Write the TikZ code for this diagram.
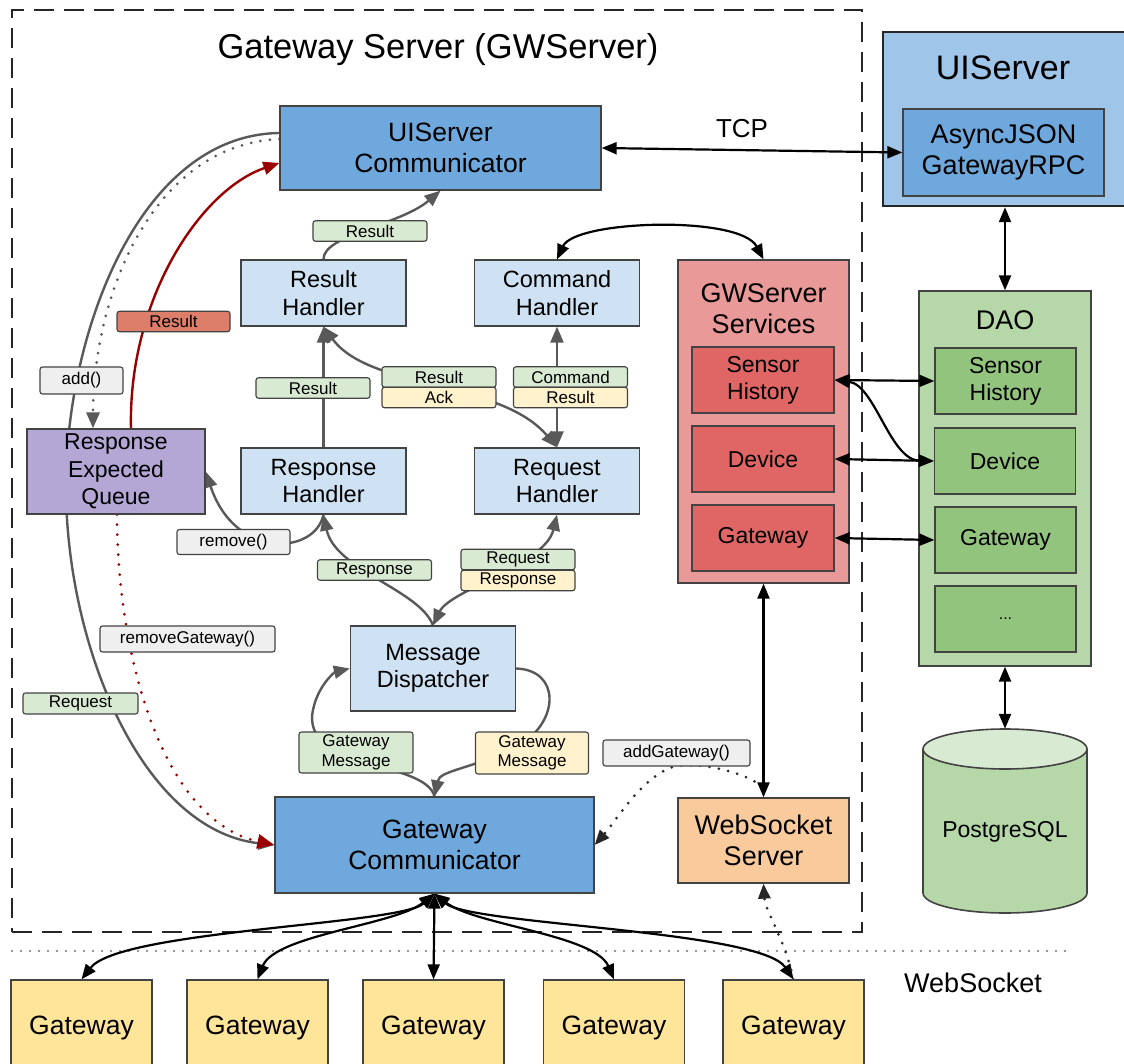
\documentclass[tikz,border=0pt]{standalone}
\usepackage{fontspec}
\setmainfont{Liberation Sans}
\usetikzlibrary{arrows.meta}
\pgfdeclarelayer{bgfill}
\pgfdeclarelayer{groups}
\pgfdeclarelayer{bg}
\pgfsetlayers{bgfill,groups,bg,main}

\definecolor{bordc}{HTML}{434343}
\definecolor{linec}{HTML}{595959}
\definecolor{redc}{HTML}{990000}
\definecolor{commblue}{HTML}{6FA8DC}
\definecolor{lightblue}{HTML}{CFE2F3}
\definecolor{uiblue}{HTML}{9FC5E8}
\definecolor{queuec}{HTML}{B4A7D6}
\definecolor{svcouter}{HTML}{EA9999}
\definecolor{svcinner}{HTML}{E06666}
\definecolor{daoouter}{HTML}{B6D7A8}
\definecolor{daoinner}{HTML}{93C47D}
\definecolor{dbtopc}{HTML}{D9EAD3}
\definecolor{wsc}{HTML}{F9CB9C}
\definecolor{gwyellow}{HTML}{FFE599}
\definecolor{tagg}{HTML}{D9EAD3}
\definecolor{tagy}{HTML}{FFF2CC}
\definecolor{taggray}{HTML}{EFEFEF}
\definecolor{tagred}{HTML}{DD7E6B}

\newcommand\setfs[2]{\fontsize{#1pt}{#2pt}\selectfont}

\tikzset{
  box/.style={draw=bordc, line width=1.3pt, inner sep=0pt, align=center, text=black},
  handler/.style={box, fill=lightblue, minimum width=165pt, minimum height=66pt, font=\setfs{23.5}{27.7}},
  comm/.style={box, fill=commblue, font=\setfs{26.5}{31.5}},
  innerbox/.style={box, minimum width=142pt, minimum height=66pt, font=\setfs{23}{27}},
  gwbox/.style={box, fill=gwyellow, minimum width=141pt, minimum height=95pt, font=\setfs{26.5}{31}},
  tag/.style={draw=bordc, line width=1.1pt, rounded corners=2.5pt, inner sep=0pt,
    minimum width=114pt, minimum height=20.5pt, font=\setfs{17}{19.5}, align=center},
  gtip/.style={-{Triangle[length=16pt,width=13pt]}},
  gline/.style={draw=linec, line width=2.4pt},
  garrow/.style={gline, gtip},
  gboth/.style={gline, {Triangle[length=16pt,width=13pt]}-{Triangle[length=16pt,width=13pt]}},
  gdots/.style={draw=linec, line width=3pt, line cap=round, dash pattern=on 0pt off 9.5pt, gtip},
  rline/.style={draw=redc, line width=2.4pt, gtip},
  rdots/.style={draw=redc, line width=3pt, line cap=round, dash pattern=on 0pt off 10pt,
    -{Triangle[length=17pt,width=14pt]}},
  bboth/.style={draw=black, line width=2.2pt, {Triangle[length=15pt,width=12pt]}-{Triangle[length=15pt,width=12pt]}},
  bdots/.style={draw=black!85, line width=3pt, line cap=round, dash pattern=on 0pt off 9.5pt,
    -{Triangle[length=15pt,width=12pt]}},
}

\begin{document}
\begin{tikzpicture}[x=1pt,y=-1pt]
\useasboundingbox (0,0) rectangle (1124,1064);
\begin{pgfonlayer}{bgfill}
  \fill[white] (0,0) rectangle (1124,1064);
\end{pgfonlayer}

% ---------- frames and group panels (beneath the connectors) ----------
\begin{pgfonlayer}{groups}
  \node[draw=black!85, line width=2.8pt, dash pattern=on 20pt off 10pt, inner sep=0pt,
        minimum width=850pt, minimum height=922pt] (gwsframe) at (437,471) {};
  \node[draw=black!85, line width=2.5pt, fill=uiblue, inner sep=0pt,
        minimum width=244pt, minimum height=174pt] (uis) at (1005,119) {};
  \node[box, fill=svcouter, minimum width=171pt, minimum height=323pt] (svc) at (763.5,421.5) {};
  \node[box, fill=daoouter, minimum width=172pt, minimum height=375pt] (dao) at (1005,478.5) {};
\end{pgfonlayer}

\node[anchor=base, font=\setfs{34.5}{40}] (title) at (438,59) {Gateway Server (GWServer)};

% ---------- UI server side ----------
\node[font=\setfs{34}{40}] (uistitle) at (1003,68) {UIServer};
\node[box, fill=commblue, minimum width=201pt, minimum height=87pt, font=\setfs{27}{31}]
      (async) at (1003.5,152.5) {AsyncJSON\\GatewayRPC};

% ---------- inner blocks ----------
\node[comm, minimum width=321pt, minimum height=84pt] (uic) at (440.5,148) {UIServer\\Communicator};
\node[handler] (resh) at (323.5,293) {Result\\Handler};
\node[handler] (cmdh) at (557,293) {Command\\Handler};
\node[handler] (rsph) at (323.5,481) {Response\\Handler};
\node[handler] (reqh) at (557,481) {Request\\Handler};
\node[box, fill=queuec, minimum width=178pt, minimum height=85pt, font=\setfs{23}{27.5}]
      (queue) at (116,471.5) {Response\\Expected\\Queue};
\node[handler, minimum height=85pt] (disp) at (433,668.5) {Message\\Dispatcher};
\node[comm, minimum width=319pt, minimum height=96pt] (gwc) at (434.5,845) {Gateway\\Communicator};
\node[box, fill=wsc, minimum width=171pt, minimum height=85pt, font=\setfs{27}{31}]
      (wss) at (763.5,840.5) {WebSocket\\Server};

% ---------- services ----------
\node[font=\setfs{27}{31}, align=center] (svctitle) at (763.5,309) {GWServer\\Services};
\node[innerbox, fill=svcinner] (svcsh) at (763,380) {Sensor\\History};
\node[innerbox, fill=svcinner] (svcdev) at (763,459) {Device};
\node[innerbox, fill=svcinner] (svcgw) at (763,538) {Gateway};

% ---------- DAO ----------
\node[font=\setfs{27}{31}] (daotitle) at (1005,320.5) {DAO};
\node[innerbox, fill=daoinner, minimum width=141pt] (daosh) at (1005.5,381) {Sensor\\History};
\node[innerbox, fill=daoinner, minimum width=141pt] (daodev) at (1005,461) {Device};
\node[innerbox, fill=daoinner, minimum width=141pt] (daogw) at (1005.5,540) {Gateway};
\node[innerbox, fill=daoinner, minimum width=141pt, font=\setfs{16}{18}] (daomore) at (1005.5,619) {...};

% ---------- database cylinder ----------
\node[inner sep=0pt, minimum width=164pt, minimum height=184pt] (db) at (1005,821) {};
\fill[daoouter] (923,749) rectangle (1087,893);
\fill[daoouter] (1005,893) ellipse (82 and 20);
\draw[bordc, line width=1.6pt] (923,749) -- (923,893)
  .. controls (923,904.05) and (959.7,913) .. (1005,913)
  .. controls (1050.3,913) and (1087,904.05) .. (1087,893) -- (1087,749);
\draw[bordc, line width=1.6pt, fill=dbtopc] (1005,749) ellipse (82 and 20);
\node[font=\setfs{23}{27}] (dblabel) at (1005,832) {PostgreSQL};

% ---------- gateways ----------
\node[gwbox] (gw1) at (81.5,1027.5) {Gateway};
\node[gwbox] (gw2) at (257.5,1027.5) {Gateway};
\node[gwbox] (gw3) at (433.5,1027.5) {Gateway};
\node[gwbox] (gw4) at (614,1027.5) {Gateway};
\node[gwbox] (gw5) at (793.5,1027.5) {Gateway};

\node[font=\setfs{26}{30}] (tcp) at (742,128.5) {TCP};
\node[font=\setfs{27}{31}] (wslabel) at (973,982.5) {WebSocket};

% ---------- connectors ----------
\begin{pgfonlayer}{bg}
  \draw[draw=black!55, line width=2.2pt, line cap=round, dash pattern=on 0pt off 9pt] (12,951) -- (1070,951);

  % queue bookkeeping around the left side
  \draw[garrow] ([yshift=15pt]uic.west) .. controls (140,135) and (68,330) .. (66,480)
        .. controls (64,640) and (140,830) .. (gwc.west);
  \draw[gdots] ([yshift=9pt]uic.west) .. controls (150,145) and (93,300) .. ([xshift=-23pt]queue.north);
  \draw[rline] ([xshift=15pt]queue.north)
        .. controls (128,300) and (200,190) .. ([yshift=-15pt]uic.west);
  \draw[rdots] ([xshift=1pt]queue.south) .. controls (117,650) and (160,820) .. (gwc.west);
  \draw[garrow] (rsph.south) .. controls (315,555) and (235,560) .. (queue.east);

  % handler chain
  \draw[garrow] (disp.north) .. controls (420,590) and (335,570) .. (rsph.south);
  \draw[gboth] (disp.north) .. controls (450,590) and (545,565) .. (reqh.south);
  \draw[garrow] (rsph.north) -- (resh.south);
  \draw[gboth] (reqh.north) .. controls (500,380) and (370,390) .. (resh.south);
  \draw[gboth] (cmdh.south) -- (reqh.north);
  \draw[garrow] (resh.north) .. controls (323,235) and (400,225) .. (uic.south);

  % gateway message loops
  \draw[garrow] (gwc.north) .. controls (425,760) and (300,770) .. (313,710)
        .. controls (318,685) and (335,672) .. (disp.west);
  \draw[garrow] (disp.east) .. controls (560,670) and (560,720) .. (520,745)
        .. controls (470,770) and (440,770) .. (gwc.north);

  % external links
  \draw[bboth] (uic.east) -- (async.west);
  \draw[bboth] (uis.south) -- (dao.north);
  \draw[bboth] (dao.south) -- (db.north);
  \draw[bboth] (cmdh.north) .. controls (575,220) and (740,215) .. (svc.north);
  \draw[bboth] (svcsh.east) -- (daosh.west);
  \draw[bboth] (svcdev.east) -- (daodev.west);
  \draw[bboth] (svcgw.east) -- (daogw.west);
  \draw[bboth] (svcsh.east) .. controls (875,385) and (890,460) .. (daodev.west);
  \draw[bboth] (svc.south) -- (wss.north);

  % websocket fan-out
  \draw[bboth] (gwc.south) .. controls (400,925) and (120,930) .. (gw1.north);
  \draw[bboth] (gwc.south) .. controls (395,925) and (275,935) .. (gw2.north);
  \draw[bboth] (gwc.south) -- (gw3.north);
  \draw[bboth] (gwc.south) .. controls (475,925) and (595,935) .. (gw4.north);
  \draw[bboth] (gwc.south) .. controls (470,925) and (760,930) .. (gw5.north);

  % registration of new gateways
  \draw[bdots] ([xshift=-9pt,yshift=16pt]wss.north) .. controls (735,770) and (690,760) .. (670,768)
        .. controls (640,780) and (615,822) .. (gwc.east);
  \draw[bdots] (gw5.north) .. controls (785,940) and (765,910) .. (wss.south);
\end{pgfonlayer}

% ---------- connector labels ----------
\node[tag, fill=tagg] (tResTop) at (370,231) {Result};
\node[tag, fill=tagg] (tResLeft) at (313,388) {Result};
\node[tag, fill=tagg] (tResAckA) at (439,377) {Result};
\node[tag, fill=tagy] (tResAckB) at (439,397.5) {Ack};
\node[tag, fill=tagg] (tCmdA) at (570.5,377) {Command};
\node[tag, fill=tagy] (tCmdB) at (570.5,397.5) {Result};
\node[tag, fill=tagg] (tResp) at (374.5,570) {Response};
\node[tag, fill=tagg] (tReqA) at (518,559.5) {Request};
\node[tag, fill=tagy] (tReqB) at (518,580.5) {Response};
\node[tag, fill=tagg, minimum height=41pt] (tGwMsgL) at (356,752.5) {Gateway\\Message};
\node[tag, fill=tagy, minimum height=42pt, minimum width=113pt] (tGwMsgR) at (532,753) {Gateway\\Message};
\node[tag, fill=tagred, minimum width=113pt] (tResRed) at (173.5,321.5) {Result};
\node[tag, fill=taggray, minimum width=83pt, minimum height=27pt] (tAdd) at (81.5,380.5) {add()};
\node[tag, fill=taggray, minimum width=113pt, minimum height=25pt] (tRemove) at (233.5,542) {remove()};
\node[tag, fill=taggray, minimum width=175pt, minimum height=26pt] (tRemGw) at (187.5,639) {removeGateway()};
\node[tag, fill=tagg, minimum width=115pt, minimum height=21pt] (tRequest) at (80.5,703.5) {Request};
\node[tag, fill=taggray, minimum width=147pt, minimum height=26pt] (tAddGw) at (676.5,753) {addGateway()};
\end{tikzpicture}
\end{document}
